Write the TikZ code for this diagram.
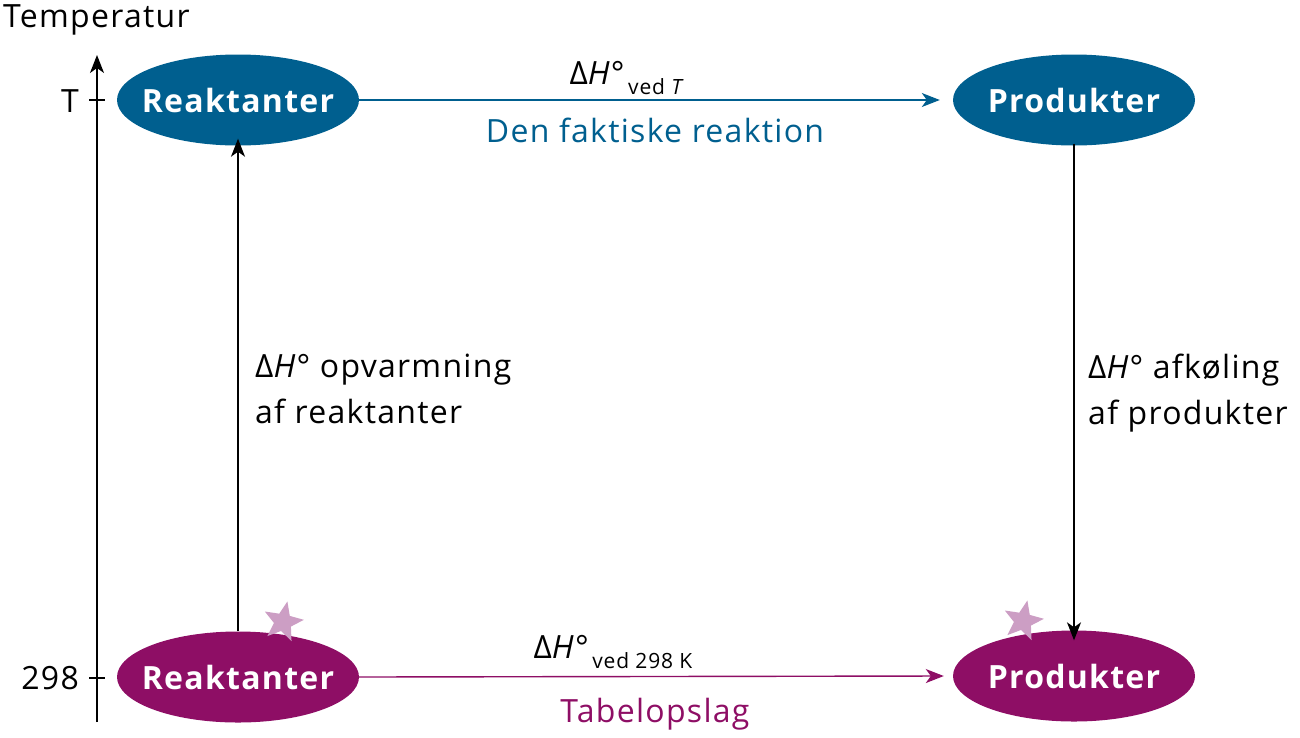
\documentclass[tikz,border=0pt]{standalone}
\usepackage{fontspec}
\setmainfont[LetterSpace=4]{Open Sans}
\usepackage{tikz}
\usetikzlibrary{shapes.geometric, arrows.meta, positioning, calc}

\definecolor{hotblue}{RGB}{0,95,143}
\definecolor{coldpurple}{RGB}{142,14,101}
\definecolor{starpink}{RGB}{204,158,196}

\begin{document}
\begin{tikzpicture}[
    x=1pt, y=-1pt,
    state/.style={ellipse, minimum width=242pt, minimum height=91pt, inner xsep=-60pt, inner ysep=0pt, text=white, font=\fontsize{32}{36}\selectfont\bfseries},
    txt/.style={font=\fontsize{32}{46}\selectfont, inner sep=0pt},
    arrow/.style={-{Stealth[length=18pt, width=14pt, inset=5pt]}, line width=1.4pt},
    starmark/.style={star, star points=5, star point ratio=2.3, minimum size=42pt, inner sep=0pt, fill=starpink, rotate=-12}
]
\useasboundingbox (0,0) rectangle (1300,737);

% Temperature axis
\node[txt, anchor=base west] (taxis) at (3,27) {Temperatur};
\coordinate (axbot) at (97,722);
\coordinate (axtop) at (97,55);
\draw[arrow] (axbot) -- (axtop);
\draw[line width=1.4pt] (89,100) -- (105,100);
\draw[line width=1.4pt] (89,678) -- (105,678);
\node[txt, anchor=base east] (tickT) at (79,112) {T};
\node[txt, anchor=base east] (tick298) at (79,689) {298};

% States
\node[state, fill=hotblue] (reakT) at (238,100) {Reaktanter};
\node[state, fill=hotblue] (prodT) at (1074,100) {Produkter};
\node[state, fill=coldpurple] (reak298) at (238,677) {Reaktanter};
\node[state, fill=coldpurple] (prod298) at (1074,676) {Produkter};

% Standard state stars
\node[starmark] (starL) at (283,622) {};
\node[starmark] (starR) at (1023,621) {};

% Arrows
\draw[arrow, hotblue] (reakT.east) -- ([xshift=-13pt]prodT.west);
\draw[arrow, coldpurple] (reak298.east) -- ([xshift=-9pt]prod298.west);
\draw[arrow] (reak298.north) -- ([yshift=7pt]reakT.south);
\draw[arrow] ([yshift=2pt]prodT.south) -- ([yshift=-10pt]prod298.north);

% Labels
\node[txt, anchor=base] (dhT) at (627,84) {Δ\textit{H}°\raisebox{-10pt}{\fontsize{21}{24}\selectfont\,ved \textit{T}}};
\node[txt, anchor=base, text=hotblue] (realT) at (655,142) {Den faktiske reaktion};
\node[txt, anchor=base] (dh298) at (613,658) {Δ\textit{H}°\raisebox{-10pt}{\fontsize{21}{24}\selectfont\,ved 298 K}};
\node[txt, anchor=base, text=coldpurple] (table) at (655,722) {Tabelopslag};
\node[txt, anchor=north west, align=left] (heat) at (255,354) {Δ\textit{H}° opvarmning\\af reaktanter};
\node[txt, anchor=north west, align=left] (cool) at (1088,354) {Δ\textit{H}° afkøling\\af produkter};
\end{tikzpicture}
\end{document}
